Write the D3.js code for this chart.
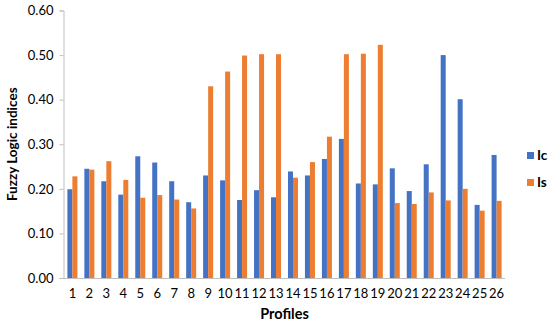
<!DOCTYPE html>
<html>
<head>
<meta charset="utf-8">
<script src="https://cdn.jsdelivr.net/npm/d3@7"></script>
<style>
  body { margin: 0; background: #fff; }
  text { font-family: Lato, "Open Sans", sans-serif; fill: #000; }
</style>
</head>
<body>
<div id="app"></div>
<script>
// data
var profiles = d3.range(1, 27).map(String);
var icValues = [0.199, 0.245, 0.217, 0.187, 0.273, 0.259, 0.217, 0.170, 0.230, 0.219,
                0.175, 0.197, 0.181, 0.239, 0.230, 0.267, 0.312, 0.212, 0.210, 0.246,
                0.195, 0.255, 0.500, 0.401, 0.164, 0.276];
var isValues = [0.228, 0.243, 0.262, 0.220, 0.180, 0.186, 0.176, 0.156, 0.430, 0.463,
                0.499, 0.502, 0.502, 0.225, 0.260, 0.317, 0.502, 0.503, 0.523, 0.168,
                0.166, 0.192, 0.174, 0.200, 0.151, 0.173];
var yTicks = [0, 0.1, 0.2, 0.3, 0.4, 0.5, 0.6];
var seriesNames = ["Ic", "Is"];
var seriesColors = ["#4472C4", "#ED7D31"];

var W = 550, H = 327;
var margin = {top: 10.5, right: 45, bottom: 49, left: 64};

var svg = d3.select("#app").append("svg")
    .attr("width", W)
    .attr("height", H);

var x = d3.scaleBand()
    .domain(profiles)
    .range([margin.left, W - margin.right])
    .paddingInner(0.41)
    .paddingOuter(0.2);

var sub = d3.scaleBand()
    .domain(seriesNames)
    .range([0, x.bandwidth()]);

var y = d3.scaleLinear()
    .domain([0, 0.6])
    .range([H - margin.bottom, margin.top]);

// y axis
var yAxis = svg.append("g")
    .attr("transform", "translate(" + (margin.left - 0.5) + ",0)")
    .call(d3.axisLeft(y).tickValues(yTicks).tickFormat(d3.format(".2f")).tickSize(4).tickPadding(6));
yAxis.select(".domain").attr("stroke", "#bfbfbf");
yAxis.selectAll(".tick line").attr("stroke", "#bfbfbf");
yAxis.selectAll("text").style("font-size", "13px").attr("fill", "#000");

// bars
var rows = profiles.map(function(p, i) { return {p: p, vals: [icValues[i], isValues[i]]}; });
var groups = svg.append("g").selectAll("g")
  .data(rows)
  .join("g")
    .attr("transform", function(d) { return "translate(" + x(d.p) + ",0)"; });

groups.selectAll("rect")
  .data(function(d) { return d.vals.map(function(v, k) { return {k: k, v: v}; }); })
  .join("rect")
    .attr("x", function(d) { return sub(seriesNames[d.k]); })
    .attr("width", sub.bandwidth())
    .attr("y", function(d) { return y(d.v); })
    .attr("height", function(d) { return y(0) - y(d.v); })
    .attr("fill", function(d) { return seriesColors[d.k]; });

// x axis
var xAxis = svg.append("g")
    .attr("transform", "translate(0," + (y(0) + 0.5) + ")")
    .call(d3.axisBottom(x).tickSize(0).tickPadding(10));
xAxis.select(".domain").attr("stroke", "#bfbfbf").attr("d", "M" + (margin.left - 1) + ",0H" + (W - margin.right));
xAxis.selectAll("text").style("font-size", "13px").attr("fill", "#000");

// axis titles
svg.append("text")
    .attr("x", (margin.left + W - margin.right) / 2)
    .attr("y", 319)
    .attr("text-anchor", "middle")
    .style("font-size", "14.5px")
    .style("font-weight", "bold")
    .text("Profiles");

svg.append("text")
    .attr("transform", "translate(17," + ((margin.top + H - margin.bottom) / 2) + ") rotate(-90)")
    .attr("text-anchor", "middle")
    .style("font-size", "13.5px")
    .style("font-weight", "bold")
    .text("Fuzzy Logic indices");

// legend
var legend = svg.append("g").selectAll("g")
  .data(seriesNames)
  .join("g")
    .attr("transform", function(d, i) { return "translate(527," + (152 + i * 27) + ")"; });
legend.append("rect")
    .attr("width", 7).attr("height", 7)
    .attr("fill", function(d, i) { return seriesColors[i]; });
legend.append("text")
    .attr("x", 10).attr("y", 8)
    .style("font-size", "13.5px")
    .style("font-weight", "bold")
    .text(function(d) { return d; });
</script>
</body>
</html>
